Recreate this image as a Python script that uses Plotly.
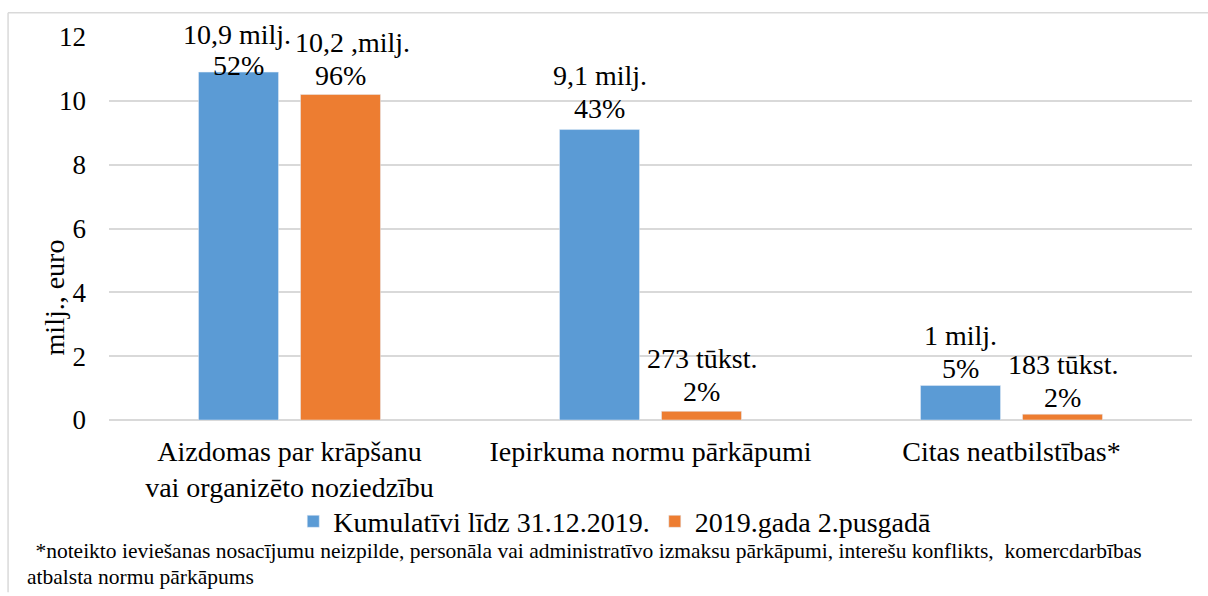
import plotly.graph_objects as go

categories = ["Aizdomas par krāpšanu<br>vai organizēto noziedzību",
              "Iepirkuma normu pārkāpumi",
              "Citas neatbilstības*"]
series_names = ["Kumulatīvi līdz 31.12.2019.", "2019.gada 2.pusgadā"]
cumulative = [10.9, 9.1, 1.08]
half_year = [10.2, 0.273, 0.183]
cum_amounts = ["10,9 milj.", "9,1 milj.", "1 milj."]
cum_shares = ["52%", "43%", "5%"]
half_amounts = ["10,2 ,milj.", "273 tūkst.", "183 tūkst."]
half_shares = ["96%", "2%", "2%"]
y_ticks = [0, 2, 4, 6, 8, 10, 12]
footnote_line1 = (" *noteikto ieviešanas nosacījumu neizpilde, personāla vai administratīvo "
                  "izmaksu pārkāpumi, interešu konflikts,  komercdarbības")
footnote_line2 = "atbalsta normu pārkāpums"

BLUE = "#5b9bd5"
ORANGE = "#ed7d31"
FONT = "'Liberation Serif', 'Times New Roman', 'DejaVu Serif', serif"
FS = 28

fig = go.Figure()
fig.add_trace(go.Bar(x=categories, y=cumulative, name=series_names[0],
                     marker=dict(color=BLUE)))
fig.add_trace(go.Bar(x=categories, y=half_year, name=series_names[1],
                     marker=dict(color=ORANGE)))

# label placement offsets (pixels) for each bar's two-line data label
cum_lift = [-11, 4, 0]
cum_line = [31, 33, 33]
cum_xs = [-53, -51, -51]
half_lift = [1, 2, -1]
half_xs = [63, 51, 51]
LINE = 33
lfont = dict(family=FONT, size=FS, color="#000")
for i, c in enumerate(categories):
    fig.add_annotation(x=c, y=cumulative[i], text=cum_shares[i], showarrow=False,
                       xshift=-51, yanchor="bottom", yshift=cum_lift[i], font=lfont)
    fig.add_annotation(x=c, y=cumulative[i], text=cum_amounts[i], showarrow=False,
                       xshift=cum_xs[i], yanchor="bottom", yshift=cum_lift[i] + cum_line[i],
                       font=lfont)
    fig.add_annotation(x=c, y=half_year[i], text=half_shares[i], showarrow=False,
                       xshift=51, yanchor="bottom", yshift=half_lift[i], font=lfont)
    fig.add_annotation(x=c, y=half_year[i], text=half_amounts[i], showarrow=False,
                       xshift=half_xs[i], yanchor="bottom", yshift=half_lift[i] + LINE, font=lfont)

# y-axis title
fig.add_annotation(xref="paper", yref="paper", x=-0.0508, y=0.32, text="milj., euro",
                   textangle=-90, showarrow=False, xanchor="center", yanchor="middle",
                   font=dict(family=FONT, size=FS, color="#000"))
# footnote
ffont = dict(family=FONT, size=21.5, color="#000")
fig.add_annotation(xref="paper", yref="paper", x=-0.0745, y=-0.342, text=footnote_line1,
                   showarrow=False, xanchor="left", yanchor="middle", align="left", font=ffont)
fig.add_annotation(xref="paper", yref="paper", x=-0.078, y=-0.41, text=footnote_line2,
                   showarrow=False, xanchor="left", yanchor="middle", align="left", font=ffont)

# outer border (top and left lines)
fig.add_shape(type="line", xref="paper", yref="paper", x0=-0.0932, x1=1.02, y0=1.063, y1=1.063,
              line=dict(color="#d9d9d9", width=1.5))
fig.add_shape(type="line", xref="paper", yref="paper", x0=-0.0932, x1=-0.0932, y0=1.063, y1=-0.45,
              line=dict(color="#d9d9d9", width=1.5))

fig.update_layout(
    width=1208, height=596,
    margin=dict(l=109, r=16, t=37, b=176),
    paper_bgcolor="white", plot_bgcolor="white",
    barmode="group", bargap=0.435, bargroupgap=0.216,
    font=dict(family=FONT, size=FS, color="#000"),
    showlegend=True,
    legend=dict(orientation="h", x=0.467, xanchor="center", y=-0.2, yanchor="top",
                font=dict(family=FONT, size=FS, color="#000"), itemwidth=30,
                traceorder="normal"),
)
fig.update_xaxes(showline=False, ticks="", tickfont=dict(family=FONT, size=FS),
                 ticklabelstandoff=12)
fig.update_yaxes(range=[0, 12], tickvals=y_ticks, showgrid=True, gridcolor="#d9d9d9",
                 gridwidth=1.5, zeroline=True, zerolinecolor="#d9d9d9", zerolinewidth=1.5,
                 ticks="", ticklabelstandoff=22, tickfont=dict(family=FONT, size=27))

fig.write_html("out.html", config={"displayModeBar": False},
               post_script="document.body.style.margin='0';document.body.style.overflow='hidden';")
